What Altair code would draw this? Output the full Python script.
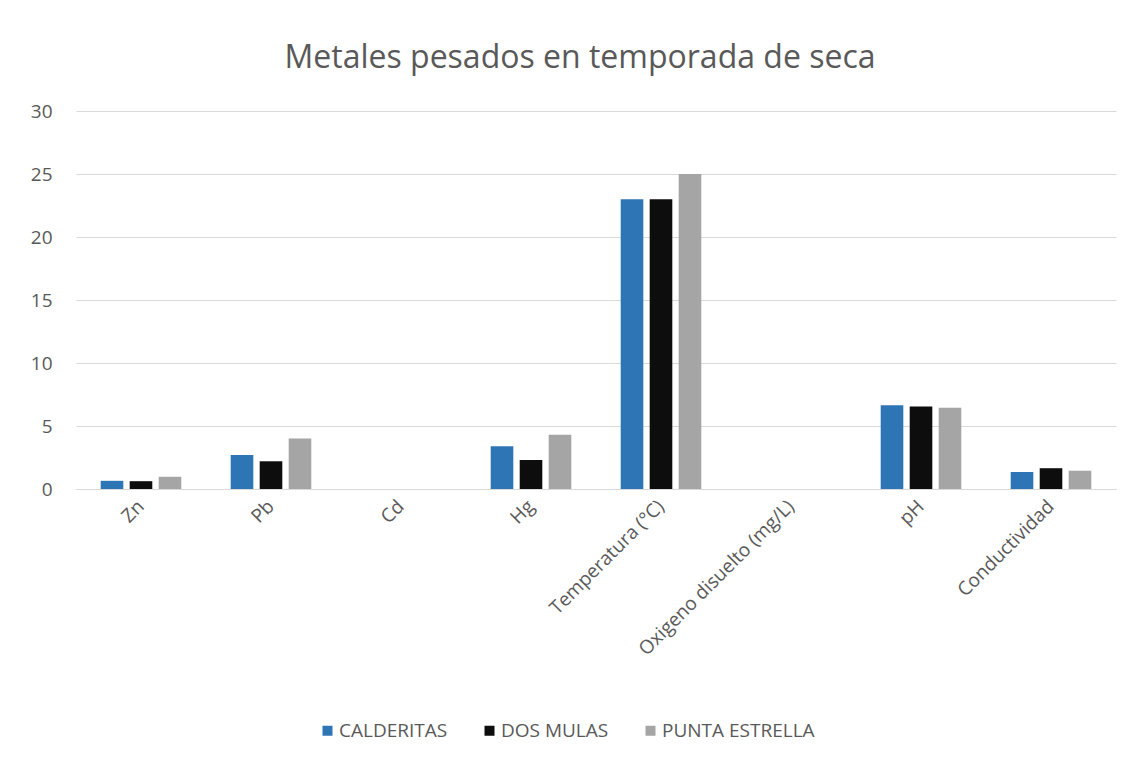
import altair as alt
import pandas as pd

categorias = ["Zn", "Pb", "Cd", "Hg", "Temperatura (°C)", "Oxigeno disuelto (mg/L)", "pH", "Conductividad"]
calderitas = [0.65, 2.7, 0.0, 3.4, 23.0, 0.0, 6.65, 1.35]
dos_mulas = [0.62, 2.2, 0.0, 2.3, 23.0, 0.0, 6.55, 1.65]
punta_estrella = [0.97, 4.0, 0.0, 4.3, 25.0, 0.0, 6.45, 1.45]
sitios = ["CALDERITAS", "DOS MULAS", "PUNTA ESTRELLA"]
colores = ["#2E75B6", "#0D0D0D", "#A5A5A5"]

rows = []
for s, vals in zip(sitios, [calderitas, dos_mulas, punta_estrella]):
    for c, v in zip(categorias, vals):
        rows.append({"categoria": c, "sitio": s, "valor": v})
df = pd.DataFrame(rows)

FONT = "Open Sans"
GRAY = "#595959"

chart = alt.Chart(df).mark_bar().encode(
    x=alt.X("categoria:N", sort=categorias, title=None,
            scale=alt.Scale(paddingInner=0.38, paddingOuter=0.19),
            axis=alt.Axis(labelAngle=-45, labelAlign="right", labelBaseline="middle",
                          labelFontSize=19, labelColor=GRAY, labelFont=FONT, labelLimit=400,
                          ticks=False, domainColor="#D9D9D9", labelPadding=14)),
    xOffset=alt.XOffset("sitio:N", sort=sitios, scale=alt.Scale(paddingInner=0.22)),
    y=alt.Y("valor:Q", title=None,
            scale=alt.Scale(domain=[0, 30]),
            axis=alt.Axis(values=[0, 5, 10, 15, 20, 25, 30], labelFontSize=19, labelColor=GRAY,
                          labelFont=FONT, ticks=False, domain=False, gridColor="#D9D9D9",
                          labelPadding=24)),
    color=alt.Color("sitio:N", sort=sitios, title=None,
                    scale=alt.Scale(domain=sitios, range=colores),
                    legend=alt.Legend(orient="none", legendX=242, legendY=610, direction="horizontal",
                                      symbolType="square", symbolSize=100, symbolStrokeWidth=0,
                                      labelFontSize=19, labelColor=GRAY, labelFont=FONT,
                                      columnPadding=32, symbolOffset=0, labelOffset=2)),
).properties(
    width=1040,
    height=378,
    title=alt.TitleParams("Metales pesados en temporada de seca", fontSize=32, font=FONT,
                          color=GRAY, fontWeight="normal", offset=27, dx=-16),
    autosize=alt.AutoSizeParams(type="none"),
    padding={"left": 76, "top": 111, "right": 16, "bottom": 273},
).configure(background="white").configure_view(stroke=None)

chart.save("out.html", embed_options={"renderer": "svg", "actions": False})
